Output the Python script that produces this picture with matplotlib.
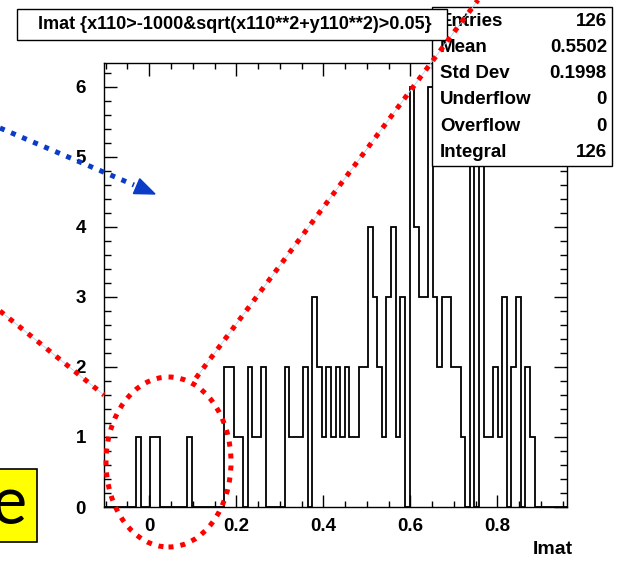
import numpy as np
import matplotlib
matplotlib.use("Agg")
import matplotlib.pyplot as plt
from matplotlib.patches import Rectangle, Ellipse, Polygon
from matplotlib.lines import Line2D
from matplotlib.ticker import MultipleLocator

W, H = 620, 563

# Imat histogram, 100 bins
x_lo, x_hi = -0.104, 0.960
counts = [
    0, 0, 0, 0, 0, 0, 0, 1, 0, 0,
    1, 1, 0, 0, 0, 0, 0, 0, 1, 0,
    0, 0, 0, 0, 0, 0, 2, 2, 1, 1,
    0, 2, 1, 1, 2, 0, 0, 0, 0, 2,
    1, 1, 1, 2, 0, 3, 2, 1, 2, 1,
    2, 1, 2, 1, 1, 2, 2, 4, 3, 2,
    1, 3, 4, 1, 3, 0, 6, 4, 3, 3,
    6, 3, 2, 3, 3, 2, 2, 1, 0, 6,
    0, 5, 1, 1, 2, 1, 3, 0, 2, 3,
    0, 2, 1, 0, 0, 0, 0, 0, 0, 0,
]
x_ticks = [0, 0.2, 0.4, 0.6, 0.8]
x_ticklabels = ["0", "0.2", "0.4", "0.6", "0.8"]
y_ticks = [0, 1, 2, 3, 4, 5, 6]

title = "Imat {x110>-1000&sqrt(x110**2+y110**2)>0.05}"
stat_names = ["Entries", "Mean", "Std Dev", "Underflow", "Overflow", "Integral"]
stat_values = ["126", "0.5502", "0.1998", "0", "0", "126"]

FONT = "Liberation Sans"


def fx(x):
    return x / W


def fy(y):
    return 1 - y / H


fig = plt.figure(figsize=(W / 100, H / 100), dpi=100)
ax = fig.add_axes([fx(104), fy(507), (567 - 104) / W, (507 - 63) / H])

edges = np.linspace(x_lo, x_hi, len(counts) + 1)
ax.stairs(counts, edges, color="black", lw=1.3)

ax.set_xlim(x_lo, x_hi)
ax.set_ylim(0, 6.34)
ax.set_xticks(x_ticks, x_ticklabels)
ax.set_yticks(y_ticks, [str(v) for v in y_ticks])
ax.xaxis.set_minor_locator(MultipleLocator(0.05))
ax.yaxis.set_minor_locator(MultipleLocator(0.2))
ax.tick_params(which="both", direction="in", top=True, right=True, width=1)
ax.tick_params(axis="x", which="major", length=9, pad=8)
ax.tick_params(axis="x", which="minor", length=4.2)
ax.tick_params(axis="y", which="major", length=9.5, pad=13)
ax.tick_params(axis="y", which="minor", length=4.7)
for lab in ax.get_xticklabels() + ax.get_yticklabels():
    lab.set_fontfamily(FONT)
    lab.set_fontweight("bold")
    lab.set_fontsize(13.5)
for sp in ax.spines.values():
    sp.set_linewidth(1)

fig.text(fx(573), fy(549), "Imat", ha="right", va="center",
         family=FONT, weight="bold", fontsize=14)

# stats box (the title box is drawn over its left corner)
fig.add_artist(Rectangle((fx(432), fy(166)), (612 - 432) / W, (166 - 7) / H,
                         transform=fig.transFigure, fc="white", ec="black", lw=1,
                         zorder=5))
for i, (name, val) in enumerate(zip(stat_names, stat_values)):
    yy = 21 + 26.3 * i
    fig.text(fx(440), fy(yy), name, ha="left", va="center",
             family=FONT, weight="bold", fontsize=13.5, zorder=6)
    fig.text(fx(607), fy(yy), val, ha="right", va="center",
             family=FONT, weight="bold", fontsize=13.5, zorder=6)

# title box
fig.add_artist(Rectangle((fx(17), fy(40)), (447 - 17) / W, (40 - 9) / H,
                         transform=fig.transFigure, fc="white", ec="black", lw=1,
                         zorder=7))
fig.text(fx(235), fy(24.5), title, ha="center", va="center",
         family=FONT, weight="bold", fontsize=13, zorder=8)

# hand-drawn annotations on top
red = "#ff0000"
blue = "#0a3cc8"
dots = dict(lw=3.6, linestyle=(0, (1, 1.4)), solid_capstyle="butt",
            dash_capstyle="butt", transform=fig.transFigure, zorder=20)


def seg(p, q, color):
    fig.add_artist(Line2D([fx(p[0]), fx(q[0])], [fy(p[1]), fy(q[1])],
                          color="#a8d8f0", lw=0.6, transform=fig.transFigure, zorder=19))
    fig.add_artist(Line2D([fx(p[0]), fx(q[0])], [fy(p[1]), fy(q[1])],
                          color=color, **dots))


seg((0, 311), (104, 395), red)
seg((196, 378), (478, 0), red)
fig.add_artist(Ellipse((fx(168.5), fy(462)), 125 / W, 170 / H,
                       transform=fig.transFigure, fill=False, ec=red,
                       lw=3.6, linestyle=(0, (1, 1.4)), zorder=20))

fig.add_artist(Line2D([fx(0), fx(134)], [fy(128), fy(185)], color=blue, **dots))
tip = np.array([155.0, 194.0])
d = tip - np.array([0.0, 128.0])
d /= np.linalg.norm(d)
perp = np.array([-d[1], d[0]])
base = tip - 20 * d
head = [tip, base + 8 * perp, base - 8 * perp]
fig.add_artist(Polygon([(fx(p[0]), fy(p[1])) for p in head], closed=True,
                       transform=fig.transFigure, fc=blue, ec=blue, zorder=20))

# yellow label box at bottom left (cut off by the slide edge)
fig.add_artist(Rectangle((fx(-5), fy(542)), 42 / W, (542 - 469) / H,
                         transform=fig.transFigure, fc="#ffff00", ec="black", lw=1.2,
                         zorder=20))
fig.text(fx(27), fy(505), "e", ha="right", va="center", family="Lato",
         fontsize=48, zorder=21)

fig.savefig("out.png", dpi=100)
